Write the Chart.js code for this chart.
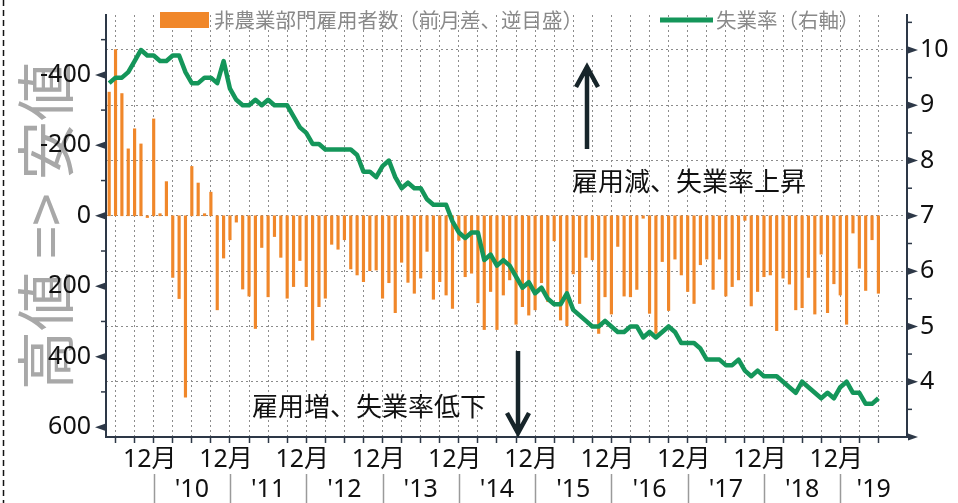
<!DOCTYPE html>
<html>
<head>
<meta charset="utf-8">
<script src="https://cdn.jsdelivr.net/npm/chart.js@4.4.1/dist/chart.umd.min.js"></script>
<style>
  html, body { margin: 0; padding: 0; background: #fff; }
  #wrap { width: 958px; height: 503px; }
</style>
</head>
<body>
<div id="wrap"><canvas id="chart" width="958" height="503"></canvas></div>
<script>
// ---- data ----
// monthly axis from May 2009, runs a few months past the last value (Oct 2019)
const startYear = 2009;
const startMonth = 5;
const monthCount = 126;

// nonfarm payrolls, change from previous month (thousands), May 2009 - Jun 2019
const payrolls = [
  -351, -472, -347, -190, -247, -204, 5, -275, -6, -97, 175, 235,
  515, -140, -93, -6, -67, 267, 120, 68, 18, 208, 228, 320,
  90, 230, 59, 118, 234, 201, 127, 201, 353, 258, 234, 81,
  95, 68, 151, 168, 187, 156, 154, 234, 190, 275, 132, 189,
  220, 177, 101, 237, 187, 225, 263, 70, 173, 163, 247, 323,
  215, 323, 225, 182, 308, 258, 282, 267, 190, 244, 71, 296,
  312, 165, 249, 118, 125, 334, 230, 279, 87, 228, 230, 209,
  7, 277, 334, 130, 269, 123, 168, 215, 249, 139, 123, 209,
  123, 228, 201, 182, 13, 256, 215, 173, 168, 326, 177, 194,
  267, 261, 175, 279, 109, 275, 193, 225, 308, 49, 149, 212,
  68, 220
];

// unemployment rate (%), same months
const unemployment = [
  9.4, 9.5, 9.5, 9.6, 9.8, 10.0, 9.9, 9.9, 9.8, 9.8, 9.9, 9.9,
  9.6, 9.4, 9.4, 9.5, 9.5, 9.4, 9.8, 9.3, 9.1, 9.0, 9.0, 9.1,
  9.0, 9.1, 9.0, 9.0, 9.0, 8.8, 8.6, 8.5, 8.3, 8.3, 8.2, 8.2,
  8.2, 8.2, 8.2, 8.1, 7.8, 7.8, 7.7, 7.9, 8.0, 7.7, 7.5, 7.6,
  7.5, 7.5, 7.3, 7.2, 7.2, 7.2, 6.9, 6.7, 6.6, 6.7, 6.7, 6.2,
  6.3, 6.1, 6.2, 6.1, 5.9, 5.7, 5.8, 5.6, 5.7, 5.5, 5.4, 5.4,
  5.6, 5.3, 5.2, 5.1, 5.0, 5.0, 5.1, 5.0, 4.9, 4.9, 5.0, 5.0,
  4.8, 4.9, 4.8, 4.9, 5.0, 4.9, 4.7, 4.7, 4.7, 4.6, 4.4, 4.4,
  4.4, 4.3, 4.3, 4.4, 4.2, 4.1, 4.2, 4.1, 4.1, 4.1, 4.0, 3.9,
  3.8, 4.0, 3.9, 3.8, 3.7, 3.8, 3.7, 3.9, 4.0, 3.8, 3.8, 3.6,
  3.6, 3.7
];

// tick values
const leftTicks = [-500, -400, -300, -200, -100, 0, 100, 200, 300, 400, 500, 600];
const rightTicks = [3, 4, 5, 6, 7, 8, 9, 10];
const rightMinor = [3.5, 4.5, 5.5, 6.5, 7.5, 8.5, 9.5, 10.5];
const yearLabels = ["'10", "'11", "'12", "'13", "'14", "'15", "'16", "'17", "'18", "'19"];
const decLabel = '12月';

const months = [];
for (let i = 0; i < monthCount; i++) {
  const m = (startMonth - 1 + i) % 12 + 1;
  const y = startYear + Math.floor((startMonth - 1 + i) / 12);
  months.push(y + '-' + String(m).padStart(2, '0'));
}
const decIdx = [];
months.forEach((m, i) => { if (m.endsWith('-12')) decIdx.push(i); });

// ---- styles ----
const ORANGE = '#f0872a';
const GREEN = '#14965a';
const AXIS = '#2d3847';
const GRID = '#8c8c8c';
const NUM_FONT = '"Noto Sans", "Noto Sans CJK JP", sans-serif';
const JP_FONT = '"Noto Sans CJK JP", sans-serif';

function showGrid(i) {
  return i % 3 === 1 && i < payrolls.length;
}

// keep the plot box exactly where the layout padding / widths put it
function noScalePadding(s) {
  s.paddingTop = 0;
  s.paddingBottom = 0;
  s.paddingLeft = 0;
  s.paddingRight = 0;
}

function arrow(ctx, x, yTail, yTip) {
  const dir = yTip < yTail ? 1 : -1;
  ctx.beginPath();
  ctx.moveTo(x, yTail);
  ctx.lineTo(x, yTip);
  ctx.moveTo(x - 11, yTip + dir * 20);
  ctx.lineTo(x, yTip);
  ctx.lineTo(x + 11, yTip + dir * 20);
  ctx.stroke();
}

const decorations = {
  id: 'decorations',
  beforeDraw(chart) {
    const ctx = chart.ctx;
    ctx.save();
    ctx.fillStyle = '#fff';
    ctx.fillRect(0, 0, chart.width, chart.height);
    // dashed line on the left edge
    ctx.strokeStyle = '#111';
    ctx.lineWidth = 1.5;
    ctx.setLineDash([6, 4]);
    ctx.beginPath();
    ctx.moveTo(3.5, 0);
    ctx.lineTo(3.5, chart.height);
    ctx.stroke();
    ctx.setLineDash([]);
    // big grey caption behind the left axis
    ctx.translate(46, 226);
    ctx.rotate(-Math.PI / 2);
    ctx.font = '59px ' + JP_FONT;
    ctx.fillStyle = '#a8a8a8';
    ctx.textAlign = 'center';
    ctx.textBaseline = 'middle';
    ctx.fillText('高値 => 安値', 0, 0);
    ctx.restore();
  },
  afterDraw(chart) {
    const ctx = chart.ctx;
    const area = chart.chartArea;
    const x = chart.scales.x, y = chart.scales.y, y1 = chart.scales.y1;
    ctx.save();

    // tick markers on both value axes
    ctx.fillStyle = AXIS;
    ctx.strokeStyle = AXIS;
    ctx.lineWidth = 1.5;
    leftTicks.forEach(v => {
      const py = y.getPixelForValue(v);
      if (v % 200 === 0) {
        ctx.beginPath();
        ctx.moveTo(area.left - 1, py - 3.5);
        ctx.lineTo(area.left - 11, py);
        ctx.lineTo(area.left - 1, py + 3.5);
        ctx.fill();
      } else {
        ctx.beginPath();
        ctx.moveTo(area.left, py);
        ctx.lineTo(area.left - 5, py);
        ctx.stroke();
      }
    });
    rightTicks.forEach(v => {
      const py = y1.getPixelForValue(v);
      ctx.beginPath();
      ctx.moveTo(area.right + 1, py - 3.5);
      ctx.lineTo(area.right + 11, py);
      ctx.lineTo(area.right + 1, py + 3.5);
      ctx.fill();
    });
    rightMinor.forEach(v => {
      const py = y1.getPixelForValue(v);
      ctx.beginPath();
      ctx.moveTo(area.right, py);
      ctx.lineTo(area.right + 5, py);
      ctx.stroke();
    });

    // year groups under the month labels
    ctx.strokeStyle = '#9a9a9a';
    ctx.lineWidth = 1.5;
    decIdx.forEach(i => {
      const px = Math.round(x.getPixelForValue(i)) + 0.5;
      ctx.beginPath();
      ctx.moveTo(px, 474);
      ctx.lineTo(px, 503);
      ctx.stroke();
    });
    ctx.fillStyle = '#111';
    ctx.font = '25px ' + NUM_FONT;
    ctx.textAlign = 'center';
    ctx.textBaseline = 'middle';
    yearLabels.forEach((lab, k) => {
      const a = x.getPixelForValue(decIdx[k]);
      const b = k + 1 < decIdx.length ? x.getPixelForValue(decIdx[k + 1]) : area.right;
      ctx.fillText(lab, (a + b) / 2, 490);
    });

    // legend
    ctx.fillStyle = ORANGE;
    ctx.fillRect(160, 12, 49, 16);
    ctx.strokeStyle = GREEN;
    ctx.lineWidth = 5;
    ctx.beginPath();
    ctx.moveTo(660, 20);
    ctx.lineTo(713, 20);
    ctx.stroke();
    ctx.fillStyle = '#8a8a8a';
    ctx.font = '20.5px ' + JP_FONT;
    ctx.textAlign = 'left';
    ctx.fillText('非農業部門雇用者数（前月差、逆目盛）', 214, 20);
    ctx.fillText('失業率（右軸）', 716, 20);

    // notes and arrows
    ctx.fillStyle = '#111';
    ctx.font = '26px ' + JP_FONT;
    ctx.fillText('雇用減、失業率上昇', 572, 181);
    ctx.fillText('雇用増、失業率低下', 252, 406);
    ctx.strokeStyle = '#17252a';
    ctx.lineWidth = 4.5;
    arrow(ctx, 587, 149, 67);
    arrow(ctx, 518, 351, 433);

    ctx.restore();
  }
};

new Chart(document.getElementById('chart'), {
  type: 'bar',
  data: {
    labels: months,
    datasets: [
      {
        type: 'line',
        label: '失業率（右軸）',
        data: unemployment,
        yAxisID: 'y1',
        borderColor: GREEN,
        borderWidth: 4.5,
        pointRadius: 0,
        tension: 0,
        borderJoinStyle: 'round',
        order: 0
      },
      {
        type: 'bar',
        label: '非農業部門雇用者数（前月差、逆目盛）',
        data: payrolls,
        yAxisID: 'y',
        backgroundColor: ORANGE,
        barThickness: 2.5,
        order: 1
      }
    ]
  },
  options: {
    responsive: false,
    animation: false,
    layout: { padding: { top: 15, left: 0, right: 0, bottom: 0 } },
    plugins: {
      legend: { display: false },
      tooltip: { enabled: false }
    },
    scales: {
      x: {
        offset: true,
        afterFit(s) { s.height = 66; noScalePadding(s); },
        grid: {
          offset: false,
          color: c => showGrid(c.index) ? GRID : 'rgba(0,0,0,0)',
          lineWidth: 1,
          drawTicks: true,
          tickLength: 6,
          tickWidth: 1.5,
          tickColor: c => showGrid(c.index) ? AXIS : 'rgba(0,0,0,0)'
        },
        border: { display: true, color: AXIS, width: 2, dash: [2, 3] },
        ticks: {
          autoSkip: false,
          maxRotation: 0,
          minRotation: 0,
          padding: 2,
          labelOffset: -4,
          color: '#111',
          font: { family: NUM_FONT, size: 25 },
          callback: (v, i) => months[i].endsWith('-12') ? decLabel : ''
        }
      },
      y: {
        position: 'left',
        reverse: true,
        min: -570,
        max: 628,
        afterBuildTicks(s) { s.ticks = leftTicks.map(v => ({ value: v })); },
        afterFit(s) { s.width = 106; noScalePadding(s); },
        grid: { display: false, drawTicks: false, tickLength: 0 },
        border: { display: true, color: AXIS, width: 2 },
        ticks: {
          autoSkip: false,
          padding: 15,
          color: '#111',
          font: { family: NUM_FONT, size: 25 },
          callback: v => v % 200 === 0 ? String(v) : ''
        }
      },
      y1: {
        position: 'right',
        min: 3,
        max: 10.633,
        afterBuildTicks(s) { s.ticks = rightTicks.map(v => ({ value: v })); },
        afterFit(s) { s.width = 51; noScalePadding(s); },
        grid: { display: true, color: GRID, lineWidth: 1, drawTicks: false, tickLength: 0 },
        border: { display: true, color: AXIS, width: 2, dash: [2, 3] },
        ticks: {
          autoSkip: false,
          padding: 13,
          color: '#111',
          font: { family: NUM_FONT, size: 25 },
          callback: v => v === 3 ? '' : String(v)
        }
      }
    }
  },
  plugins: [decorations]
});
</script>
</body>
</html>
